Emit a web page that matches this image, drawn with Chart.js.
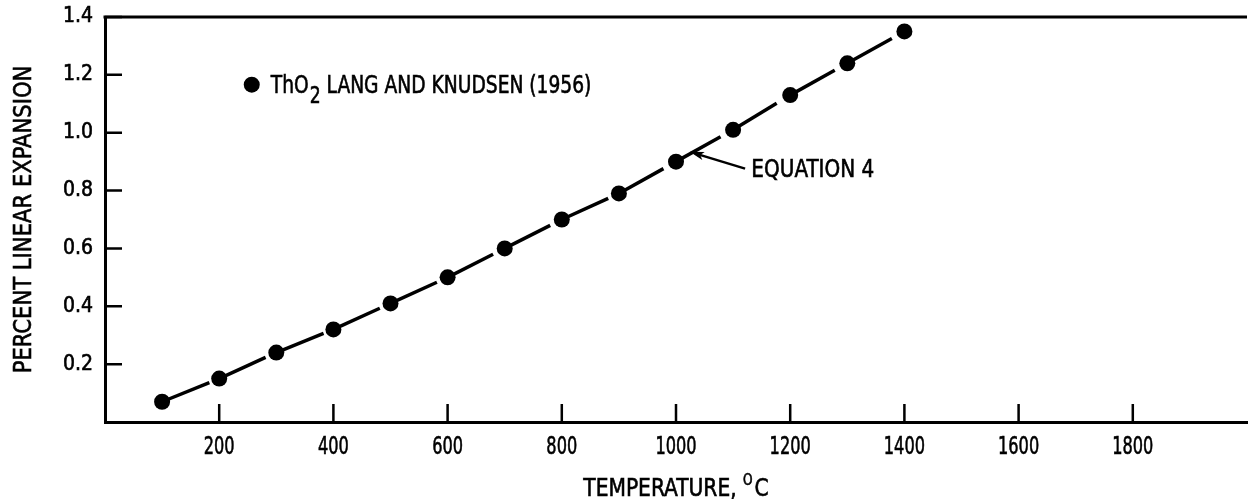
<!DOCTYPE html>
<html>
<head>
<meta charset="utf-8">
<title>Thermal expansion of ThO2</title>
<script src="https://cdn.jsdelivr.net/npm/chart.js@4.4.1/dist/chart.umd.min.js"></script>
<style>
  html, body { margin: 0; padding: 0; background: #fff; overflow: hidden; }
  #wrap { width: 1255px; height: 499px; }
</style>
</head>
<body>
<div id="wrap"><canvas id="chart" width="1255" height="499"></canvas></div>
<script>
// Measured thermal expansion of thorium dioxide (Lang and Knudsen, 1956)
const temperatureC = [100, 200, 300, 400, 500, 600, 700, 800, 900, 1000, 1100, 1200, 1300, 1400];
const expansionPct = [0.07, 0.15, 0.24, 0.32, 0.41, 0.50, 0.60, 0.70, 0.79, 0.90, 1.01, 1.13, 1.24, 1.35];

// Labelled ticks on each axis
const xTickValues = [200, 400, 600, 800, 1000, 1200, 1400, 1600, 1800];
const yTickValues = [0.2, 0.4, 0.6, 0.8, 1.0, 1.2, 1.4];

// Text pieces (plain, subscript / superscript, plain)
const seriesLabel = ['ThO', '2', ' LANG AND KNUDSEN (1956)'];
const fitLabel = 'EQUATION 4';
const xTitle = ['TEMPERATURE, ', 'O', 'C'];
const yTitle = 'PERCENT LINEAR EXPANSION';

const FONT = '"DejaVu Sans Condensed", "Liberation Sans Narrow", sans-serif';
const INK = '#000';
const INK_WEIGHT = 0.6; // extra outline that thickens the lettering

// Where the key and the curve callout sit, in data units
const keyAt = { x: 257, y: 1.166 };
const arrowTip = { x: 1024, y: 0.934 };
const arrowTail = { x: 1121, y: 0.876 };
const calloutAt = { x: 1132, y: 0.869 };

const near = (v, list) => list.some(t => Math.abs(t - v) < 1e-6);

function inkText(c, text, x, y) {
  c.fillText(text, x, y);
  c.lineWidth = INK_WEIGHT;
  c.strokeStyle = INK;
  c.strokeText(text, x, y);
}

// Draw a scale's own label items squeezed horizontally, pushed away from the axis by gap
function narrowLabels(scale, squeeze, gapX, gapY) {
  if (scale.__narrow) return;
  scale.drawLabels = function () {
    const c = this.ctx;
    for (const item of this.getLabelItems()) {
      if (!item.label) continue;
      const o = item.options;
      c.save();
      c.translate(o.translation[0] + gapX, o.translation[1] + gapY);
      c.rotate(o.rotation);
      c.scale(squeeze, 1);
      c.font = item.font.string;
      c.fillStyle = o.color;
      c.textAlign = o.textAlign;
      c.textBaseline = o.textBaseline;
      inkText(c, item.label, 0, item.textOffset);
      c.restore();
    }
  };
  scale.__narrow = true;
}

// Text written with a horizontal squeeze; returns drawn width
function narrowText(ctx, text, x, y, font, squeeze) {
  ctx.save();
  ctx.font = font;
  ctx.translate(x, y);
  ctx.scale(squeeze, 1);
  inkText(ctx, text, 0, 0);
  const w = ctx.measureText(text).width * squeeze;
  ctx.restore();
  return w;
}
function textWidth(ctx, text, font, squeeze) {
  ctx.save();
  ctx.font = font;
  const w = ctx.measureText(text).width * squeeze;
  ctx.restore();
  return w;
}

const decorations = {
  id: 'decorations',
  afterUpdate(chart) {
    narrowLabels(chart.scales.x, 0.72, 0, 10);
    narrowLabels(chart.scales.y, 1, -12, 0);
  },
  afterDraw(chart) {
    const { ctx, chartArea: a, scales: { x, y } } = chart;
    ctx.save();
    ctx.strokeStyle = INK;
    ctx.fillStyle = INK;

    // frame line along the top
    ctx.lineWidth = 3;
    ctx.beginPath();
    ctx.moveTo(a.left - 1.5, a.top);
    ctx.lineTo(a.right, a.top);
    ctx.stroke();

    // inward tick marks
    ctx.lineWidth = 2.5;
    ctx.beginPath();
    y.ticks.forEach(t => {
      if (!near(t.value, yTickValues)) return;
      const py = y.getPixelForValue(t.value);
      ctx.moveTo(a.left, py);
      ctx.lineTo(a.left + 17, py);
    });
    x.ticks.forEach(t => {
      if (!near(t.value, xTickValues)) return;
      const px = x.getPixelForValue(t.value);
      ctx.moveTo(px, a.bottom);
      ctx.lineTo(px, a.bottom - 18);
    });
    ctx.stroke();

    const big = '25px ' + FONT;
    ctx.textAlign = 'left';
    ctx.textBaseline = 'alphabetic';

    // key: marker and label with subscript
    const kx = x.getPixelForValue(keyAt.x);
    const ky = y.getPixelForValue(keyAt.y);
    ctx.beginPath();
    ctx.arc(kx, ky, 8, 0, Math.PI * 2);
    ctx.fill();
    let tx = kx + 19;
    const base = ky + 8;
    tx += narrowText(ctx, seriesLabel[0], tx, base, big, 0.83);
    tx += narrowText(ctx, seriesLabel[1], tx + 1, base + 10, '23px ' + FONT, 0.83) + 1;
    narrowText(ctx, seriesLabel[2], tx, base, big, 0.83);

    // callout arrow to the fitted curve
    const ax = x.getPixelForValue(arrowTip.x), ay = y.getPixelForValue(arrowTip.y);
    const bx = x.getPixelForValue(arrowTail.x), by = y.getPixelForValue(arrowTail.y);
    const ang = Math.atan2(by - ay, bx - ax);
    ctx.lineWidth = 2.5;
    ctx.beginPath();
    ctx.moveTo(ax + Math.cos(ang) * 8, ay + Math.sin(ang) * 8);
    ctx.lineTo(bx, by);
    ctx.stroke();
    ctx.beginPath();
    ctx.moveTo(ax, ay);
    ctx.lineTo(ax + Math.cos(ang + 0.28) * 15, ay + Math.sin(ang + 0.28) * 15);
    ctx.lineTo(ax + Math.cos(ang) * 11, ay + Math.sin(ang) * 11);
    ctx.lineTo(ax + Math.cos(ang - 0.28) * 15, ay + Math.sin(ang - 0.28) * 15);
    ctx.closePath();
    ctx.fill();
    ctx.textBaseline = 'middle';
    narrowText(ctx, fitLabel, x.getPixelForValue(calloutAt.x), y.getPixelForValue(calloutAt.y), big, 0.89);

    // x axis title with superscript degree mark
    ctx.textBaseline = 'alphabetic';
    const small = '15px ' + FONT;
    const w0 = textWidth(ctx, xTitle[0], big, 0.9);
    const w1 = textWidth(ctx, xTitle[1], small, 0.9);
    const w2 = textWidth(ctx, xTitle[2], big, 0.9);
    let sx = (a.left + a.right) / 2 - (w0 + w1 + w2 + 2) / 2;
    const sb = 496;
    sx += narrowText(ctx, xTitle[0], sx, sb, big, 0.9);
    sx += narrowText(ctx, xTitle[1], sx, sb - 11, small, 0.9) + 2;
    narrowText(ctx, xTitle[2], sx, sb, big, 0.9);

    // y axis title
    ctx.save();
    ctx.translate(24, (a.top + a.bottom) / 2);
    ctx.rotate(-Math.PI / 2);
    ctx.textAlign = 'center';
    ctx.textBaseline = 'middle';
    narrowText(ctx, yTitle, 0, 0, big, 0.94);
    ctx.restore();

    ctx.restore();
  }
};

new Chart(document.getElementById('chart'), {
  type: 'line',
  data: {
    datasets: [{
      label: 'ThO2 Lang and Knudsen (1956)',
      data: temperatureC.map((t, i) => ({ x: t, y: expansionPct[i] })),
      borderColor: INK,
      borderWidth: 3.5,
      borderDash: [51, 400],
      borderCapStyle: 'butt',
      pointRadius: 8,
      pointBackgroundColor: INK,
      pointBorderWidth: 0,
      tension: 0,
      // restart the dash at every point so each span shows one dash
      segment: { borderDashOffset: c => (c.p0DataIndex % 2) * 0.01 }
    }]
  },
  options: {
    responsive: false,
    animation: false,
    layout: { padding: { left: 0, right: 0, top: 17, bottom: 0 } },
    plugins: { legend: { display: false }, tooltip: { enabled: false } },
    scales: {
      x: {
        type: 'linear',
        min: 0,
        max: 2000,
        afterFit: s => { s.height = 77; },
        grid: { display: false, drawTicks: false },
        border: { display: true, color: INK, width: 3 },
        ticks: {
          stepSize: 200,
          padding: 0,
          color: INK,
          font: { family: FONT, size: 25 },
          maxRotation: 0,
          autoSkip: false,
          callback: v => near(v, xTickValues) ? String(v) : ''
        }
      },
      y: {
        type: 'linear',
        min: 0,
        max: 1.4,
        afterFit: s => { s.width = 105; },
        grid: { display: false, drawTicks: false },
        border: { display: true, color: INK, width: 3 },
        ticks: {
          stepSize: 0.2,
          padding: 0,
          color: INK,
          font: { family: FONT, size: 21 },
          autoSkip: false,
          callback: v => near(v, yTickValues) ? v.toFixed(1) : ''
        }
      }
    }
  },
  plugins: [decorations]
});
</script>
</body>
</html>
